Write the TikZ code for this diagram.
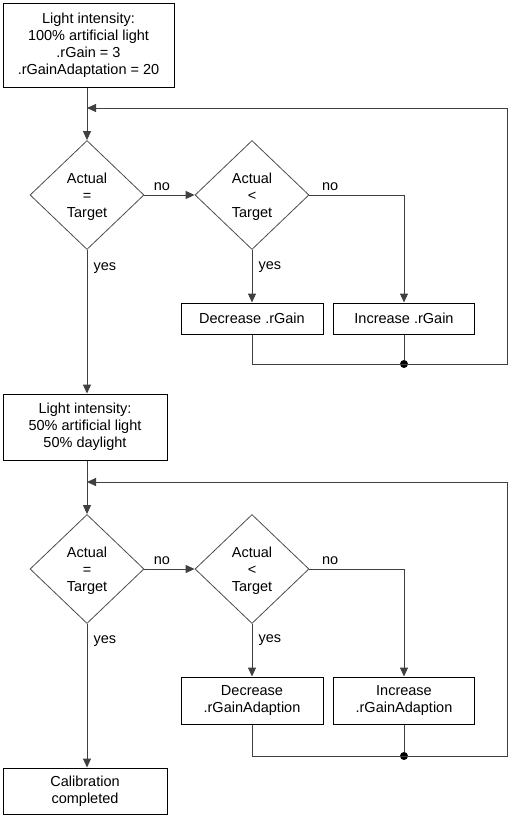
\documentclass[tikz,border=0pt]{standalone}
\usepackage{fontspec}
\setmainfont{Liberation Sans}
\usetikzlibrary{shapes.geometric,arrows.meta}

\begin{document}
\begin{tikzpicture}[x=1pt, y=-1pt,
    every node/.style={font=\fontsize{14.5}{17}\selectfont, align=center},
    box/.style={draw, line width=1pt, inner sep=0pt},
    test/.style={diamond, draw=black!70, line width=0.8pt, minimum width=114pt, minimum height=109pt, inner sep=0pt, text depth=0pt},
    line/.style={draw=black!75, line width=1pt},
    arr/.style={line, -{Triangle[length=9pt,width=8pt]}},
    dot/.style={circle, fill, inner sep=0pt, minimum size=8pt},
    lbl/.style={inner sep=1pt}]
  \useasboundingbox (0,0) rectangle (513,820);

  % first loop: tune .rGain
  \node[box, minimum width=171pt, minimum height=84pt] (light1) at (88.5,45)
    {Light intensity:\\100\% artificial light\\.rGain = 3\\.rGainAdaptation = 20};
  \node[test] (eq1) at (87,195) {Actual\\=\\Target};
  \node[test] (lt1) at (252,195) {Actual\\<\\Target};
  \node[box, minimum width=142pt, minimum height=31pt] (dec1) at (252,318.5) {Decrease .rGain};
  \node[box, minimum width=141pt, minimum height=31pt] (inc1) at (404,318.5) {Increase .rGain};
  \coordinate (m1) at (87,108);
  \coordinate (c1) at (507,364);
  \node[dot] (j1) at (inc1.south |- c1) {};

  % second loop: tune .rGainAdaption
  \node[box, minimum width=164pt, minimum height=66pt] (light2) at (85,427)
    {Light intensity:\\50\% artificial light\\50\% daylight};
  \node[test] (eq2) at (87,569) {Actual\\=\\Target};
  \node[test] (lt2) at (252,569) {Actual\\<\\Target};
  \node[box, minimum width=142pt, minimum height=47pt] (dec2) at (252,700.5) {Decrease\\.rGainAdaption};
  \node[box, minimum width=141pt, minimum height=47pt] (inc2) at (404,700.5) {Increase\\.rGainAdaption};
  \coordinate (m2) at (87,482);
  \coordinate (c2) at (507,756);
  \node[dot] (j2) at (inc2.south |- c2) {};
  \node[box, minimum width=164pt, minimum height=46pt] (done) at (85,791) {Calibration\\completed};

  % connectors
  \draw[arr] (light1.south -| eq1.north) -- (eq1.north);
  \draw[arr] (eq1.east) -- node[lbl, pos=0.35, above=3pt] {no} (lt1.west);
  \draw[arr] (lt1.south) -- node[lbl, pos=0.33, right=5pt] {yes} (dec1.north);
  \draw[arr] (lt1.east) -| node[lbl, pos=0.11, above=3pt] {no} (inc1.north);
  \draw[arr] (eq1.south) -- node[lbl, pos=0.124, right=5pt] {yes} (eq1.south |- light2.north);
  \draw[line] (inc1.south) -- (j1);
  \draw[arr] (dec1.south) |- (c1) |- (m1);

  \draw[arr] (light2.south -| eq2.north) -- (eq2.north);
  \draw[arr] (eq2.east) -- node[lbl, pos=0.35, above=3pt] {no} (lt2.west);
  \draw[arr] (lt2.south) -- node[lbl, pos=0.31, right=5pt] {yes} (dec2.north);
  \draw[arr] (lt2.east) -| node[lbl, pos=0.11, above=3pt] {no} (inc2.north);
  \draw[arr] (eq2.south) -- node[lbl, pos=0.117, right=5pt] {yes} (eq2.south |- done.north);
  \draw[line] (inc2.south) -- (j2);
  \draw[arr] (dec2.south) |- (c2) |- (m2);
\end{tikzpicture}
\end{document}
